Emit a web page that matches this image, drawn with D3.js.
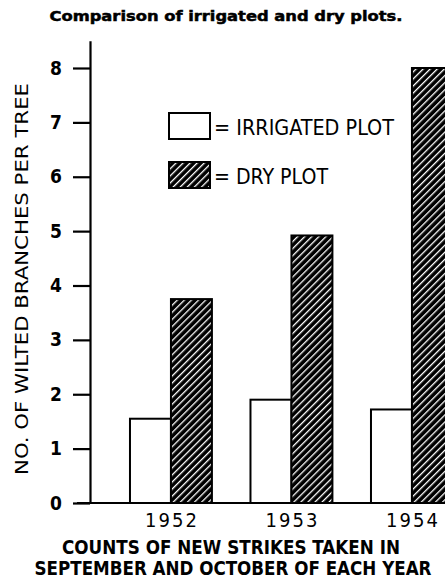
<!DOCTYPE html>
<html>
<head>
<meta charset="utf-8">
<script src="https://cdn.jsdelivr.net/npm/d3@7"></script>
<style>
  html, body { margin: 0; padding: 0; background: #fff; }
  svg { display: block; }
  text { fill: #000; }
</style>
</head>
<body>
<div id="chart"></div>
<script>
// ---- data ----
const years = ["1952", "1953", "1954"];
const irrigated = [1.55, 1.9, 1.72];
const dry = [3.75, 4.92, 8.0];
const yTicks = [0, 1, 2, 3, 4, 5, 6, 7, 8];
const seriesKeys = ["irrigated", "dry"];
const legendLabels = ["= IRRIGATED PLOT", "= DRY PLOT"];
const titleText = "Comparison of irrigated and dry plots.";
const yTitle = "NO. OF WILTED BRANCHES PER TREE";
const xTitleLines = ["COUNTS OF NEW STRIKES TAKEN IN", "SEPTEMBER AND OCTOBER OF EACH YEAR"];

const W = 445, H = 584;
const FONT = "'DejaVu Sans Condensed', 'Liberation Sans Narrow', 'DejaVu Sans', sans-serif";

const svg = d3.select("#chart").append("svg")
  .attr("width", W).attr("height", H)
  .attr("viewBox", `0 0 ${W} ${H}`);

// hatch pattern: black with thin white "\" stripes
const defs = svg.append("defs");
const pat = defs.append("pattern")
  .attr("id", "hatch")
  .attr("patternUnits", "userSpaceOnUse")
  .attr("width", 5).attr("height", 5)
  .attr("patternTransform", "rotate(45)");
pat.append("rect").attr("width", 5).attr("height", 5).attr("fill", "#000");
pat.append("rect").attr("x", 0).attr("y", 0).attr("width", 1.3).attr("height", 5).attr("fill", "#fff");

// scales
const y = d3.scaleLinear().domain([0, 8.5]).range([503, 503 - 8.5 * 54.375]);
const x = d3.scaleBand().domain(years).range([110.7, 472.2]).paddingInner(0.32).paddingOuter(0.16);
const xs = d3.scaleBand().domain(seriesKeys).range([0, x.bandwidth()]);

const rows = years.map((yr, i) => ({ year: yr, irrigated: irrigated[i], dry: dry[i] }));

// bars
const g = svg.append("g");
const groups = g.selectAll("g.grp").data(rows).join("g")
  .attr("class", "grp")
  .attr("transform", d => `translate(${x(d.year)},0)`);

groups.selectAll("rect").data(d => seriesKeys.map(k => ({ key: k, value: d[k] }))).join("rect")
  .attr("x", d => xs(d.key))
  .attr("y", d => y(d.value))
  .attr("width", xs.bandwidth())
  .attr("height", d => y(0) - y(d.value))
  .attr("fill", d => d.key === "dry" ? "url(#hatch)" : "#fff")
  .attr("stroke", "#000")
  .attr("stroke-width", 2);

// y axis
const yAxis = d3.axisLeft(y).tickValues(yTicks).tickSize(17).tickSizeOuter(0).tickPadding(11)
  .tickFormat(d3.format("d"));
const ya = svg.append("g").attr("transform", "translate(90,0)").call(yAxis);
ya.select(".domain").attr("stroke", "#000").attr("stroke-width", 2.2);
ya.selectAll(".tick line").attr("stroke", "#000").attr("stroke-width", 2.2);
ya.selectAll(".tick text")
  .attr("font-family", FONT).attr("font-size", 19).attr("font-weight", "bold")
  .attr("fill", "#000");

// baseline
svg.append("line")
  .attr("x1", 77).attr("x2", W)
  .attr("y1", y(0)).attr("y2", y(0))
  .attr("stroke", "#000").attr("stroke-width", 2.2);

// x labels (years)
const xAxis = d3.axisBottom(x).tickSize(0).tickPadding(0);
const xa = svg.append("g").attr("transform", `translate(0,${y(0)})`).call(xAxis);
xa.select(".domain").remove();
xa.selectAll(".tick text")
  .attr("font-family", FONT).attr("font-size", 20)
  .attr("dy", 0).attr("y", 24)
  .attr("textLength", 52).attr("lengthAdjust", "spacing")
  .attr("fill", "#000");

// x title lines
const xtCenters = [231, 233];
const xtLengths = [338, 397];
const xtY = [554, 575];
svg.selectAll("text.xt").data(xTitleLines).join("text")
  .attr("class", "xt")
  .attr("x", (d, i) => xtCenters[i])
  .attr("y", (d, i) => xtY[i])
  .attr("text-anchor", "middle")
  .attr("font-family", FONT).attr("font-size", 19).attr("font-weight", "bold")
  .attr("textLength", (d, i) => xtLengths[i]).attr("lengthAdjust", "spacingAndGlyphs")
  .text(d => d);

// y title
svg.append("text")
  .attr("transform", "translate(28,279) rotate(-90)")
  .attr("text-anchor", "middle")
  .attr("font-family", FONT).attr("font-size", 18)
  .attr("textLength", 392).attr("lengthAdjust", "spacingAndGlyphs")
  .text(yTitle);

// title
svg.append("text")
  .attr("x", 226).attr("y", 21)
  .attr("text-anchor", "middle")
  .attr("font-family", "'DejaVu Sans', sans-serif").attr("font-size", 14).attr("font-weight", "900")
  .attr("stroke", "#000").attr("stroke-width", 0.5)
  .attr("textLength", 353).attr("lengthAdjust", "spacingAndGlyphs")
  .text(titleText);

// legend
const legTop = [113, 162];
const leg = svg.selectAll("g.leg").data(seriesKeys).join("g")
  .attr("class", "leg")
  .attr("transform", (d, i) => `translate(169,${legTop[i]})`);
leg.append("rect")
  .attr("width", 41).attr("height", 26)
  .attr("fill", d => d === "dry" ? "url(#hatch)" : "#fff")
  .attr("stroke", "#000").attr("stroke-width", 2);
const legLen = [180, 114];
leg.append("text")
  .attr("x", 45).attr("y", 22)
  .attr("font-family", FONT).attr("font-size", 21)
  .attr("textLength", (d, i) => legLen[i]).attr("lengthAdjust", "spacingAndGlyphs")
  .text((d, i) => legendLabels[i]);
</script>
</body>
</html>
